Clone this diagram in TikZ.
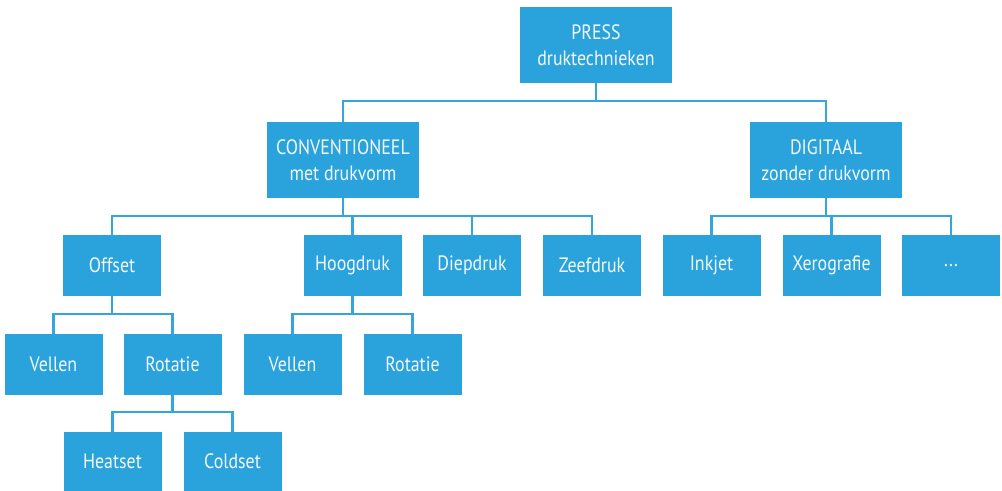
\documentclass[tikz,border=0pt]{standalone}
\usepackage{fontspec}
\setmainfont{PT Sans}[FakeStretch=0.86]
\definecolor{boxblue}{HTML}{2AA2DB}
\definecolor{lineblue}{HTML}{34A6DD}
\definecolor{boxtext}{HTML}{F2F9FD}
\begin{document}
\begin{tikzpicture}[x=0.75pt,y=-0.75pt,
  box/.style={fill=boxblue, text=boxtext, inner sep=0pt, align=center,
    minimum width=73.5pt, minimum height=45.75pt, font=\fontsize{15.6}{19.5}\selectfont},
  bigbox/.style={box, minimum width=114pt, minimum height=56.5pt},
  conn/.style={draw=lineblue, line width=2.2pt}]
\useasboundingbox (0,0) rectangle (1002,490);
% level 1
\node[bigbox] (press) at (596,45) {PRESS\\druktechnieken};
% level 2
\node[bigbox] (conv) at (343,160) {CONVENTIONEEL\\met drukvorm};
\node[bigbox] (digi) at (826,160) {DIGITAAL\\zonder drukvorm};
% level 3
\node[box] (offset) at (112,265.5) {Offset};
\node[box] (hoog) at (352.5,265.5) {Hoogdruk};
\node[box] (diep) at (472,265.5) {Diepdruk};
\node[box] (zeef) at (592,265.5) {Zeefdruk};
\node[box] (inkjet) at (711.5,265.5) {Inkjet};
\node[box] (xero) at (831.5,265.5) {Xerografie};
\node[box] (dots) at (951,265.5) {...};
% level 4
\node[box] (vel1) at (53.5,364.5) {Vellen};
\node[box] (rot1) at (172.5,364.5) {Rotatie};
\node[box] (vel2) at (292.5,364.5) {Vellen};
\node[box] (rot2) at (412.5,364.5) {Rotatie};
% level 5
\node[box, minimum height=44.25pt] (heat) at (112.5,461.5) {Heatset};
\node[box, minimum height=44.25pt] (cold) at (232.5,461.5) {Coldset};
% bus coordinates
\coordinate (b1) at (0,101);
\coordinate (b2) at (0,216);
\coordinate (b3) at (0,314);
\coordinate (b4) at (0,412);
% connectors
\foreach \c in {conv,digi}
  \draw[conn] (press.south) -- (press.south|-b1) -| (\c.north);
\foreach \c in {offset,hoog,diep,zeef}
  \draw[conn] (conv.south) -- (conv.south|-b2) -| (\c.north);
\foreach \c in {inkjet,xero,dots}
  \draw[conn] (digi.south) -- (digi.south|-b2) -| (\c.north);
\foreach \c in {vel1,rot1}
  \draw[conn] (offset.south) -- (offset.south|-b3) -| (\c.north);
\foreach \c in {vel2,rot2}
  \draw[conn] (hoog.south) -- (hoog.south|-b3) -| (\c.north);
\foreach \c in {heat,cold}
  \draw[conn] (rot1.south) -- (rot1.south|-b4) -| (\c.north);
\end{tikzpicture}
\end{document}
